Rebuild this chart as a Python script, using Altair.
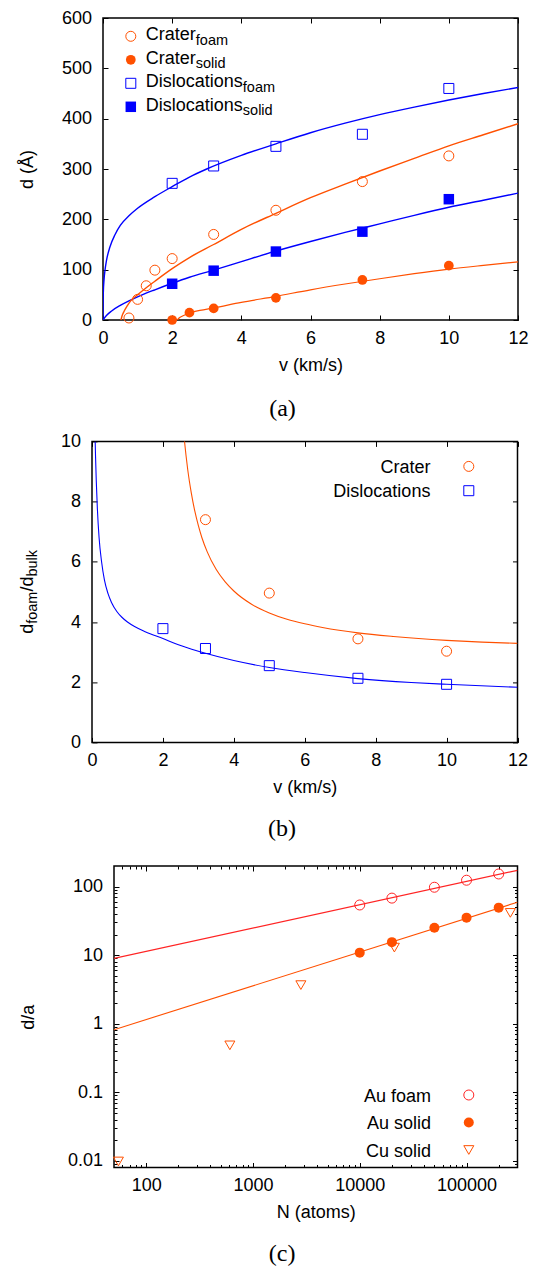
import altair as alt
import pandas as pd

# ---------------- Panel (a): d vs impact velocity ----------------
crater_foam_v = [0.75, 1.0, 1.25, 1.5, 2.0, 3.2, 5.0, 7.5, 10.0]
crater_foam_d = [4, 41, 68, 99, 122, 170, 218, 275, 326]
crater_solid_v = [2.0, 2.5, 3.2, 5.0, 7.5, 10.0]
crater_solid_d = [0, 14.6, 23, 44, 79.5, 108]
disl_v = [2.0, 3.2, 5.0, 7.5, 10.0]
disl_foam_d = [271.5, 306, 345, 369, 460]
disl_solid_d = [72, 98, 136, 175.5, 240]

# fitted curves
fitA_crater_foam_v = [0.52, 0.55, 0.6, 0.7, 0.8, 1.0, 1.25, 1.5, 2.0, 2.5, 3.2, 4.0, 5.0, 6.0, 7.0, 8.0, 9.0, 10.0, 11.0, 12.0]
fitA_crater_foam_d = [0, 8, 16, 28, 38, 50, 64, 77, 102, 124, 150, 180, 212, 243, 270, 296, 321, 346, 368, 390]
fitA_crater_solid_v = [2.15, 2.2, 2.3, 2.5, 2.8, 3.2, 4.0, 5.0, 6.0, 7.0, 8.0, 9.0, 10.0, 11.0, 12.0]
fitA_crater_solid_d = [0, 4, 8, 14, 19, 24, 35, 47, 60, 71.5, 82, 92, 101, 108.5, 115.5]
fitA_disl_foam_v = [0, 0.003, 0.01, 0.03, 0.06, 0.1, 0.2, 0.35, 0.5, 0.75, 1.0, 1.5, 2.0, 2.5, 3.0, 4.0, 5.0, 6.0, 7.0, 8.0, 9.0, 10.0, 11.0, 12.0]
fitA_disl_foam_d = [0, 35, 55, 80, 100, 118, 145, 170, 188, 207, 222, 245, 265, 284, 300, 327, 350, 372, 391, 408, 423, 437, 450, 462]
fitA_disl_solid_v = [0, 0.1, 0.25, 0.5, 0.75, 1.0, 1.5, 2.0, 2.5, 3.2, 4.0, 5.0, 6.0, 7.0, 8.0, 9.0, 10.0, 11.0, 12.0]
fitA_disl_solid_d = [0, 9, 18, 29, 38, 46, 60, 73, 85, 99, 116, 137, 156, 174, 191, 208, 224, 238, 252]

# ---------------- Panel (b): d_foam / d_bulk ----------------
ratio_crater_v = [3.2, 5.0, 7.5, 10.0]
ratio_crater = [7.40, 4.96, 3.44, 3.03]
ratio_disl_v = [2.0, 3.2, 5.0, 7.5, 10.0]
ratio_disl = [3.78, 3.12, 2.55, 2.13, 1.93]

fitB_crater_v = [2.6, 2.65, 2.7, 2.8, 2.9, 3.0, 3.1, 3.25, 3.5, 3.75, 4.0, 4.5, 5.0, 5.5, 6.0, 6.5, 7.5, 8.5, 10.0, 11.0, 12.0]
fitB_crater_r = [10.1, 9.55, 9.06, 8.29, 7.68, 7.20, 6.80, 6.33, 5.75, 5.34, 5.03, 4.59, 4.30, 4.09, 3.94, 3.82, 3.64, 3.52, 3.39, 3.33, 3.29]
fitB_disl_v = [0.09, 0.1, 0.12, 0.15, 0.2, 0.27, 0.35, 0.45, 0.55, 0.7, 0.85, 1.0, 1.2, 1.5, 2.0, 2.5, 3.2, 4.0, 5.0, 6.0, 7.5, 9.0, 10.0, 12.0]
fitB_disl_r = [10.0, 9.5, 8.7, 7.8, 6.8, 6.0, 5.4, 4.95, 4.65, 4.35, 4.15, 4.0, 3.85, 3.68, 3.45, 3.22, 2.96, 2.72, 2.49, 2.32, 2.12, 1.99, 1.93, 1.83]

# ---------------- Panel (c): d/a vs N ----------------
n_au = [10000, 20000, 50000, 100000, 200000]
au_foam = [54, 68, 98, 124, 153]
au_solid = [10.9, 15.5, 25.2, 35.3, 49.4]
n_cu = [55, 608, 2810, 21100, 257000]
cu_solid = [0.0098, 0.484, 3.66, 12.9, 41.4]
fitC_n = [50, 300000]
fitC_foam = [9.0, 173]
fitC_solid = [0.818, 59.3]

# tick labels
ticksA_x = [0, 2, 4, 6, 8, 10, 12]
ticksA_y = [0, 100, 200, 300, 400, 500, 600]
ticksB_x = [0, 2, 4, 6, 8, 10, 12]
ticksB_y = [0, 2, 4, 6, 8, 10]
ticksC_x = [100, 1000, 10000, 100000]
ticksC_y = [0.01, 0.1, 1, 10, 100]
minorC_x = [m * 10 ** k for k in range(1, 6) for m in range(2, 10) if 50 < m * 10 ** k < 300000]
minorC_y = [m * 10.0 ** k for k in range(-3, 3) for m in range(2, 10) if 0.0081 < m * 10.0 ** k < 199]

# ---------------- styling ----------------
FONT = "Liberation Sans"
SERIF = "Liberation Serif"
FS = 18
SUB = 14.5
ORANGE = "#ff5000"
BLUE = "#0000ff"
RED = "#ff2424"
TICK = 5
MINOR = 3
AX = dict(domain=False, grid=False, labelFlush=False, labelOverlap=False, minExtent=0)
ONE = pd.DataFrame({"k": [0]})

W = {"C": 722, "r": 333, "a": 556, "t": 278, "e": 556, "D": 722, "i": 222, "s": 500,
     "l": 222, "o": 556, "c": 500, "n": 556, "d": 556, "f": 278, "m": 833, "b": 556,
     "u": 556, "k": 500, "/": 278}


def tw(s, size):
    return sum(W[ch] for ch in s) * size / 1000.0


def df_xy(xs, ys):
    return pd.DataFrame({"x": xs, "y": ys})


def enc(xs, ys, xaxis=None, yaxis=None):
    return dict(x=alt.X("x:Q", scale=xs, axis=xaxis), y=alt.Y("y:Q", scale=ys, axis=yaxis))


def pts(data, xs, ys, shape, color, filled, size, xaxis=None, yaxis=None):
    return alt.Chart(data).mark_point(shape=shape, filled=filled, color=color, size=size,
                                      strokeWidth=1, opacity=1).encode(**enc(xs, ys, xaxis, yaxis))


def line(data, xs, ys, color, sw, xaxis=None, yaxis=None):
    return alt.Chart(data).mark_line(color=color, strokeWidth=sw, interpolate="monotone",
                                     clip=True).encode(**enc(xs, ys, xaxis, yaxis))


def ticks_layer(data, xs, ys, xvals, yvals, size, xo, yo):
    xa = alt.Axis(orient=xo, values=xvals, offset=-size, tickSize=size, labels=False, title=None, **AX)
    ya = alt.Axis(orient=yo, values=yvals, offset=-size, tickSize=size, labels=False, title=None, **AX)
    return alt.Chart(data).mark_point(opacity=0).encode(**enc(xs, ys, xa, ya))


def sym(x, y, shape, color, filled, size):
    return alt.Chart(ONE).mark_point(shape=shape, filled=filled, color=color, size=size,
                                     strokeWidth=1, opacity=1).encode(x=alt.value(x), y=alt.value(y))


def txt(x, y, s, size, align="left", angle=0):
    kw = dict(text=s, align=align, baseline="alphabetic", font=FONT, fontSize=size, color="black")
    if angle:
        kw["angle"] = angle
    return alt.Chart(ONE).mark_text(**kw).encode(x=alt.value(x), y=alt.value(y))


def main_axes(xvals, yvals, xtitle, ytitle, xfmt, yfmt, ytp):
    xa = alt.Axis(orient="bottom", values=xvals, format=xfmt, offset=-TICK, tickSize=TICK,
                  labelPadding=9, title=xtitle, titlePadding=9, **AX)
    ya = alt.Axis(orient="left", values=yvals, format=yfmt, offset=-TICK, tickSize=TICK,
                  labelPadding=11.5, title=ytitle, titlePadding=ytp, **AX)
    return xa, ya


def caption(s, dx, offset):
    return alt.TitleParams(s, orient="bottom", font=SERIF, fontSize=24, fontWeight="normal",
                           anchor="middle", frame="group", dx=dx, offset=offset, color="black")


# ================= Panel (a) =================
xsA = alt.Scale(domain=[0, 12], nice=False, zero=False)
ysA = alt.Scale(domain=[0, 600], nice=False, zero=False)
xaA, yaA = main_axes(ticksA_x, ticksA_y, "v (km/s)", "d (Å)", "d", "d", 24.5)

dA_cf = df_xy(crater_foam_v, crater_foam_d)
layersA = [
    line(df_xy(fitA_disl_foam_v, fitA_disl_foam_d), xsA, ysA, BLUE, 1.4, xaA, yaA),
    line(df_xy(fitA_disl_solid_v, fitA_disl_solid_d), xsA, ysA, BLUE, 1.4),
    line(df_xy(fitA_crater_foam_v, fitA_crater_foam_d), xsA, ysA, ORANGE, 1.4),
    line(df_xy(fitA_crater_solid_v, fitA_crater_solid_d), xsA, ysA, ORANGE, 1.2),
    pts(dA_cf, xsA, ysA, "circle", ORANGE, False, 100),
    pts(df_xy(crater_solid_v, crater_solid_d), xsA, ysA, "circle", ORANGE, True, 95),
    pts(df_xy(disl_v, disl_foam_d), xsA, ysA, "square", BLUE, False, 100),
    pts(df_xy(disl_v, disl_solid_d), xsA, ysA, "square", BLUE, True, 110),
    ticks_layer(dA_cf, xsA, ysA, ticksA_x, ticksA_y, TICK, "top", "right"),
]
legA = [("Crater", "foam", "circle", ORANGE, False, 100),
        ("Crater", "solid", "circle", ORANGE, True, 95),
        ("Dislocations", "foam", "square", BLUE, False, 100),
        ("Dislocations", "solid", "square", BLUE, True, 110)]
for i, (main, sub, shp, col, fil, sz) in enumerate(legA):
    ys = 18.3 + 23.5 * i
    layersA.append(sym(27.8, ys, shp, col, fil, sz))
    layersA.append(txt(42.8, ys + 4.0, main, FS))
    layersA.append(txt(42.8 + tw(main, FS), ys + 8.4, sub, SUB))

panelA = alt.layer(*layersA).resolve_axis(x="independent", y="independent").properties(
    width=415, height=302, title=caption("(a)", -28, 23))

# ================= Panel (b) =================
xsB = alt.Scale(domain=[0, 12], nice=False, zero=False)
ysB = alt.Scale(domain=[0, 10], nice=False, zero=False)
xaB, yaB = main_axes(ticksB_x, ticksB_y, "v (km/s)", None, "d", "d", 20)
dB_c = df_xy(ratio_crater_v, ratio_crater)
layersB = [
    line(df_xy(fitB_crater_v, fitB_crater_r), xsB, ysB, ORANGE, 1.1, xaB, yaB),
    line(df_xy(fitB_disl_v, fitB_disl_r), xsB, ysB, BLUE, 1.1),
    pts(dB_c, xsB, ysB, "circle", ORANGE, False, 100),
    pts(df_xy(ratio_disl_v, ratio_disl), xsB, ysB, "square", BLUE, False, 100),
    ticks_layer(dB_c, xsB, ysB, ticksB_x, ticksB_y, TICK, "top", "right"),
    sym(376.8, 25.0, "circle", ORANGE, False, 100),
    sym(376.8, 49.3, "square", BLUE, False, 100),
    txt(338.4, 31.5, "Crater", FS, align="right"),
    txt(338.4, 55.8, "Dislocations", FS, align="right"),
]
# rotated y title  d_foam / d_bulk
parts = [("d", FS, 0.0), ("foam", SUB, 4.4), ("/d", FS, 0.0), ("bulk", SUB, 4.4)]
total = sum(tw(s, f) for s, f, _ in parts)
ypos = 301 / 2 + total / 2
for s, f, sh in parts:
    layersB.append(txt(-59.0 + sh, ypos, s, f, angle=270))
    ypos -= tw(s, f)

panelB = alt.layer(*layersB).resolve_axis(x="independent", y="independent").properties(
    width=425.5, height=301, title=caption("(b)", -22.7, 21))

# ================= Panel (c) =================
xsC = alt.Scale(type="log", domain=[50, 300000], nice=False)
ysC = alt.Scale(type="log", domain=[0.008, 200], nice=False)
xaC, yaC = main_axes(ticksC_x, ticksC_y, "N (atoms)", "d/a", "d", "~g", 30)
dC_f = df_xy(n_au, au_foam)
layersC = [
    line(df_xy(fitC_n, fitC_foam), xsC, ysC, RED, 1.2, xaC, yaC),
    line(df_xy(fitC_n, fitC_solid), xsC, ysC, ORANGE, 1.1),
    pts(dC_f, xsC, ysC, "circle", RED, False, 100),
    pts(df_xy(n_au, au_solid), xsC, ysC, "circle", ORANGE, True, 100),
    pts(df_xy(n_cu, cu_solid), xsC, ysC, "triangle-down", ORANGE, False, 100),
    ticks_layer(dC_f, xsC, ysC, ticksC_x, ticksC_y, TICK, "top", "right"),
    ticks_layer(dC_f, xsC, ysC, minorC_x, minorC_y, MINOR, "bottom", "left"),
    ticks_layer(dC_f, xsC, ysC, minorC_x, minorC_y, MINOR, "top", "right"),
]
legC = [("Au foam", "circle", RED, False), ("Au solid", "circle", ORANGE, True),
        ("Cu solid", "triangle-down", ORANGE, False)]
for i, (lab, shp, col, fil) in enumerate(legC):
    ys = 229.0 + 27.5 * i
    layersC.append(sym(354.8, ys, shp, col, fil, 100))
    layersC.append(txt(317.1, ys + 6.5, lab, FS, align="right"))

panelC = alt.layer(*layersC).resolve_axis(x="independent", y="independent").properties(
    width=403.5, height=301.5, title=caption("(c)", -33.7, 20))


# invisible 1px spacer: lets each panel's full bounds (not its plot area) start at the same x
def row(panel):
    spacer = alt.Chart(ONE).mark_point(opacity=0, size=1, strokeWidth=0).encode(
        x=alt.value(0.5), y=alt.value(0.5)).properties(
        width=1, height=1, view=alt.ViewBackground(stroke="transparent"))
    return alt.hconcat(spacer, panel, spacing=0)


chart = alt.vconcat(alt.vconcat(row(panelA), row(panelB), spacing=9.4), row(panelC),
                    spacing=21).properties(
    padding={"left": 7, "top": 0, "right": 0, "bottom": 0}
).configure_view(stroke="black", strokeWidth=1.5).configure_axis(
    labelFont=FONT, labelFontSize=FS, titleFont=FONT, titleFontSize=FS, titleFontWeight="normal",
    labelColor="black", titleColor="black", tickColor="black", tickWidth=1)

chart.save("out.html", embed_options={"renderer": "svg", "actions": False})
